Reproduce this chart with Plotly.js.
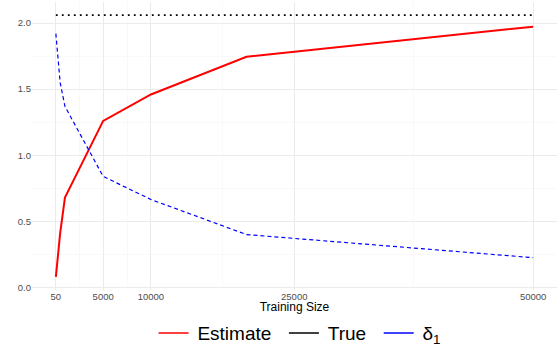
<!DOCTYPE html>
<html>
<head>
<meta charset="utf-8">
<script src="https://cdn.plot.ly/plotly-3.0.1.min.js"></script>
<style>
  html, body { margin: 0; padding: 0; background: #fff; }
  #chart { width: 560px; height: 350px; }
</style>
</head>
<body>
<div id="chart"></div>
<script>
// training sizes and curves
const train_size  = [50, 500, 1000, 5000, 10000, 20000, 50000];
const estimate    = [0.08, 0.41, 0.68, 1.26, 1.46, 1.745, 1.973];
const delta_1     = [1.92, 1.55, 1.37, 0.84, 0.665, 0.40, 0.225];
const true_x      = [50, 50000];
const true_value  = [2.06, 2.06];

const x_ticks       = [50, 5000, 10000, 25000, 50000];
const x_minor_ticks = [2525, 7500, 17500, 37500];
const y_ticks       = [0, 0.5, 1, 1.5, 2];
const y_tick_labels = ["0.0", "0.5", "1.0", "1.5", "2.0"];
const y_minor_ticks = [0.25, 0.75, 1.25, 1.75];

const font_family = "Liberation Sans, Arial, sans-serif";
const sp = "\u2009"; // thin space to push legend text off its key

// drawn lines (legend entries are separate solid keys, like ggplot)
const traces = [
    {
        x: train_size, y: estimate, mode: "lines", name: "Estimate",
        line: { color: "#ff0000", width: 2 }, showlegend: false
    },
    {
        x: true_x, y: true_value, mode: "lines", name: "True",
        line: { color: "#000000", width: 1.8, dash: "1.8px,4.2px" }, showlegend: false
    },
    {
        x: train_size, y: delta_1, mode: "lines", name: "δ<sub>1</sub>",
        line: { color: "#0000ff", width: 1.2, dash: "4px,3px" }, showlegend: false
    },
    // legend keys
    { x: [null], y: [null], mode: "lines", name: sp + "Estimate" + sp + sp, line: { color: "#ff0000", width: 1.6 } },
    { x: [null], y: [null], mode: "lines", name: sp + "True" + sp + sp,  line: { color: "#000000", width: 1.6 } },
    { x: [null], y: [null], mode: "lines", name: sp + "δ<sub>1</sub>", line: { color: "#0000ff", width: 1.6 } }
];

const layout = {
    width: 560,
    height: 350,
    margin: { l: 32, r: 3, t: 2, b: 60.4 },
    paper_bgcolor: "#ffffff",
    plot_bgcolor: "#ffffff",
    font: { family: font_family, color: "#000000" },
    xaxis: {
        range: [-2447.5, 52497.5],
        automargin: false,
        tickmode: "array",
        tickvals: x_ticks,
        ticktext: x_ticks.map(String),
        tickfont: { size: 9.5, color: "#4d4d4d" },
        showgrid: true,
        gridcolor: "#ebebeb",
        gridwidth: 1,
        minor: { tickmode: "array", tickvals: x_minor_ticks, showgrid: true, gridcolor: "#f5f5f5", gridwidth: 0.6 },
        zeroline: false,
        showline: false,
        ticks: "",
        ticklabelstandoff: -1,
        title: { text: "Training Size", font: { size: 12, color: "#000000" }, standoff: 3 }
    },
    yaxis: {
        range: [-0.0195, 2.1595],
        automargin: false,
        tickmode: "array",
        tickvals: y_ticks,
        ticktext: y_tick_labels,
        tickfont: { size: 9.5, color: "#4d4d4d" },
        showgrid: true,
        gridcolor: "#ebebeb",
        gridwidth: 1,
        minor: { tickmode: "array", tickvals: y_minor_ticks, showgrid: true, gridcolor: "#f5f5f5", gridwidth: 0.6 },
        zeroline: false,
        showline: false,
        ticks: ""
    },
    showlegend: true,
    legend: {
        orientation: "h",
        x: 0.535,
        xanchor: "center",
        xref: "container",
        y: 0.048,
        yanchor: "middle",
        yref: "container",
        font: { size: 19, color: "#000000" },
        itemwidth: 30
    }
};

Plotly.newPlot("chart", traces, layout, { displayModeBar: false, staticPlot: true });
</script>
</body>
</html>
